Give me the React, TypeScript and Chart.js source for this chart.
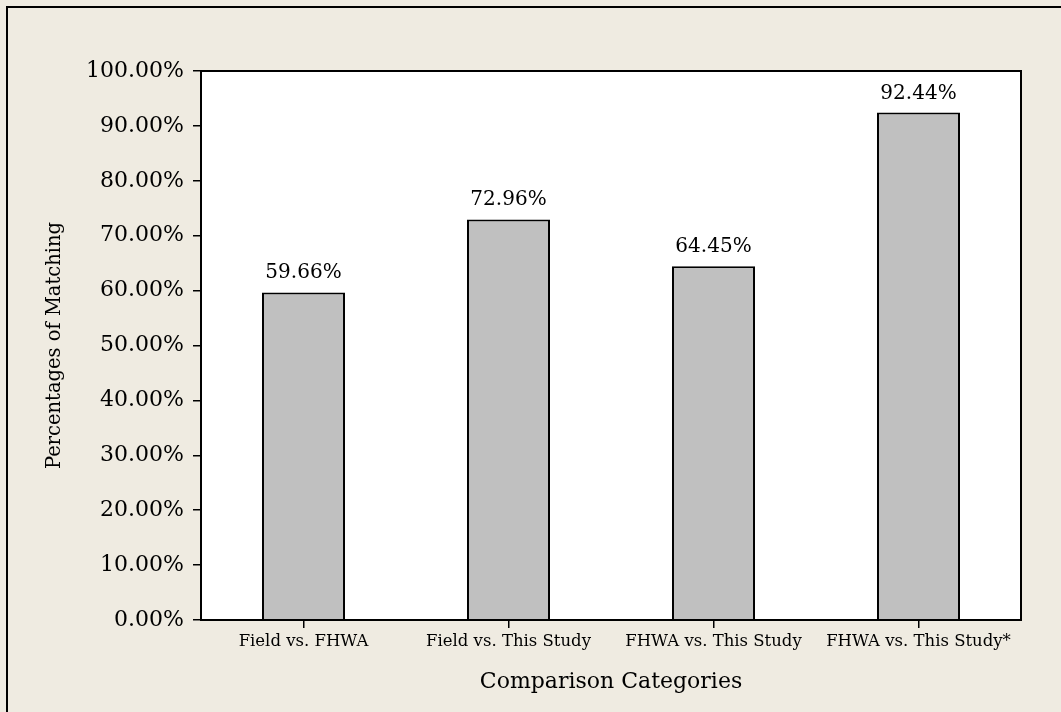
import React, { useEffect, useRef } from "react";
import { Chart, registerables } from "chart.js";

Chart.register(...registerables);

const categories = ["Field vs. FHWA", "Field vs. This Study", "FHWA vs. This Study", "FHWA vs. This Study*"];
const values = [59.66, 72.96, 64.45, 92.44];
const valueLabels = ["59.66%", "72.96%", "64.45%", "92.44%"];

const FONT = "'DejaVu Serif', serif";

export default function App() {
  const ref = useRef<HTMLCanvasElement | null>(null);

  useEffect(() => {
    document.body.style.margin = "0";
    const canvas = ref.current!;
    const plotBox = {
      id: "plotBox",
      beforeDatasetsDraw(chart: any) {
        const { ctx, chartArea: a } = chart;
        ctx.save();
        ctx.fillStyle = "#ffffff";
        ctx.fillRect(a.left, a.top, a.right - a.left, a.bottom - a.top);
        ctx.restore();
      },
      afterDatasetsDraw(chart: any) {
        const { ctx, chartArea: a } = chart;
        ctx.save();
        ctx.strokeStyle = "#000";
        ctx.lineWidth = 2;
        ctx.strokeRect(a.left, a.top, a.right - a.left, a.bottom - a.top);
        const meta = chart.getDatasetMeta(0);
        ctx.fillStyle = "#000";
        ctx.font = "20px " + FONT;
        ctx.textAlign = "center";
        ctx.textBaseline = "alphabetic";
        meta.data.forEach((bar: any, i: number) => {
          ctx.fillText(valueLabels[i], bar.x, bar.y - 14);
        });
        ctx.restore();
      },
    };

    const chart = new Chart(canvas, {
      type: "bar",
      data: {
        labels: categories,
        datasets: [
          {
            data: values,
            backgroundColor: "#c0c0c0",
            borderColor: "#000",
            borderWidth: 2,
            categoryPercentage: 1,
            barPercentage: 0.405,
          },
        ],
      },
      options: {
        animation: false,
        responsive: false,
        maintainAspectRatio: false,
        layout: { padding: { left: 0, top: 71, right: 40, bottom: 0 } },
        plugins: { legend: { display: false }, tooltip: { enabled: false } },
        scales: {
          x: {
            grid: { offset: false, drawOnChartArea: false, drawTicks: true, tickLength: 8, color: "#000", lineWidth: 1.5 },
            border: { display: false },
            ticks: { color: "#000", font: { family: FONT, size: 16.5 }, padding: 4, maxRotation: 0 },
            title: {
              display: true,
              text: "Comparison Categories",
              color: "#000",
              font: { family: FONT, size: 22 },
              padding: { top: 0, bottom: 17 },
            },
            afterFit(scale: any) {
              scale.height = 92;
            },
          },
          y: {
            min: 0,
            max: 100,
            grid: { drawOnChartArea: false, drawTicks: true, tickLength: 8, color: "#000", lineWidth: 1.5 },
            border: { display: false },
            ticks: {
              stepSize: 10,
              color: "#000",
              font: { family: FONT, size: 22 },
              padding: 9,
              callback: (v: any) => Number(v).toFixed(2) + "%",
            },
            title: {
              display: true,
              text: "Percentages of Matching",
              color: "#000",
              font: { family: FONT, size: 19.5 },
              padding: { top: 43, bottom: 0 },
            },
            afterFit(scale: any) {
              scale.width = 201;
            },
          },
        },
      },
      plugins: [plotBox],
    });
    return () => chart.destroy();
  }, []);

  return (
    <div style={{ position: "relative", width: 1061, height: 712, background: "#efebe1", overflow: "hidden" }}>
      <div
        style={{
          position: "absolute",
          left: 6,
          top: 6,
          width: 1100,
          height: 800,
          border: "2px solid #000",
          boxSizing: "border-box",
        }}
      />
      <canvas ref={ref} width={1061} height={712} style={{ position: "absolute", left: 0, top: 0, width: 1061, height: 712 }} />
    </div>
  );
}
